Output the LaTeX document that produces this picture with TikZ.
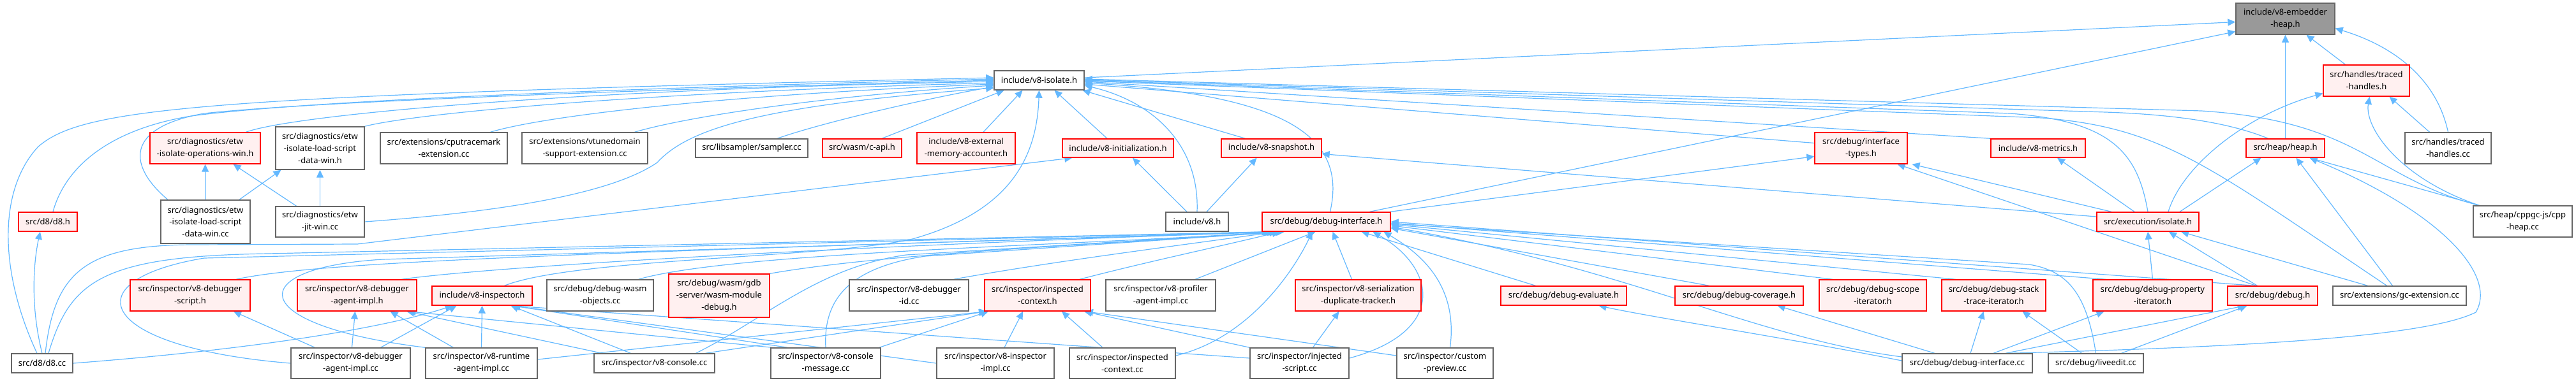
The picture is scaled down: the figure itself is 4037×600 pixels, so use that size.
\documentclass[tikz,border=0pt]{standalone}
\usepackage{fontspec}
\setmainfont{Noto Sans}
\usetikzlibrary{arrows.meta}
\definecolor{edgec}{HTML}{63B8FF}
\definecolor{boxg}{HTML}{666666}
\definecolor{redfill}{HTML}{FFF0F0}
\definecolor{rootfill}{HTML}{999999}
\pgfdeclarelayer{bg}
\pgfsetlayers{bg,main}
\tikzset{
 nb/.style={draw=boxg, fill=white, line width=1.4pt, inner sep=0pt, align=center, font=\fontsize{13}{18.8}\selectfont},
 nr/.style={nb, draw=red, fill=redfill},
 ng/.style={nb, fill=rootfill},
 e/.style={draw=edgec, line width=1.2pt, -{Triangle[length=12pt,width=11pt]}},
}
\newcommand\mknode[7]{%
 \pgfmathsetmacro\nbw{#4-#2}\pgfmathsetmacro\nbh{#5-#3}%
 \pgfmathsetmacro\nbx{(#2+#4)/2}\pgfmathsetmacro\nby{(#3+#5)/2}%
 \node[#6, minimum width=\nbw pt, minimum height=\nbh pt] (#1) at (\nbx,\nby) {#7};}
\begin{document}
\begin{tikzpicture}[x=1pt,y=-1pt]
\useasboundingbox (0,0) rectangle (4037,600);
% row 0-1
\mknode{embed}{3504}{5}{3659}{54}{ng}{include/v8-embedder\\-heap.h}
\mknode{isolate}{1558}{111}{1699}{141}{nb}{include/v8-isolate.h}
\mknode{tracedh}{3641}{102}{3776}{151}{nr}{src/handles/traced\\-handles.h}
% row 2
\mknode{etwops}{235}{208}{408}{257}{nr}{src/diagnostics/etw\\-isolate-operations-win.h}
\mknode{etwloadh}{432}{199}{571}{266}{nb}{src/diagnostics/etw\\-isolate-load-script\\-data-win.h}
\mknode{cputrace}{596}{208}{795}{257}{nb}{src/extensions/cputracemark\\-extension.cc}
\mknode{vtune}{818}{208}{1015}{257}{nb}{src/extensions/vtunedomain\\-support-extension.cc}
\mknode{sampler}{1090}{218}{1266}{247}{nb}{src/libsampler/sampler.cc}
\mknode{capi}{1289}{218}{1413}{247}{nr}{src/wasm/c-api.h}
\mknode{extmem}{1437}{208}{1591}{257}{nr}{include/v8-external\\-memory-accounter.h}
\mknode{init}{1665}{218}{1839}{247}{nr}{include/v8-initialization.h}
\mknode{snap}{1914}{218}{2071}{247}{nr}{include/v8-snapshot.h}
\mknode{ifacetypes}{2844}{208}{2989}{257}{nr}{src/debug/interface\\-types.h}
\mknode{metrics}{3120}{218}{3268}{247}{nr}{include/v8-metrics.h}
\mknode{heaph}{3520}{218}{3643}{247}{nr}{src/heap/heap.h}
\mknode{tracedcc}{3769}{208}{3904}{257}{nb}{src/handles/traced\\-handles.cc}
% row 3
\mknode{d8h}{29}{333}{121}{363}{nr}{src/d8/d8.h}
\mknode{etwloadcc}{252}{314}{392}{382}{nb}{src/diagnostics/etw\\-isolate-load-script\\-data-win.cc}
\mknode{etwjit}{432}{324}{571}{372}{nb}{src/diagnostics/etw\\-jit-win.cc}
\mknode{v8h}{1827}{333}{1925}{363}{nb}{include/v8.h}
\mknode{dbgif}{1978}{333}{2179}{363}{nr}{src/debug/debug-interface.h}
\mknode{execiso}{3286}{333}{3446}{363}{nr}{src/execution/isolate.h}
\mknode{cppheap}{3876}{323}{4031}{372}{nb}{src/heap/cppgc-js/cpp\\-heap.cc}
% row 4
\mknode{dbgscripth}{204}{439}{392}{488}{nr}{src/inspector/v8-debugger\\-script.h}
\mknode{dbgagenth}{466}{439}{653}{488}{nr}{src/inspector/v8-debugger\\-agent-impl.h}
\mknode{v8insph}{677}{449}{834}{479}{nr}{include/v8-inspector.h}
\mknode{wasmobj}{857}{439}{1024}{488}{nb}{src/debug/debug-wasm\\-objects.cc}
\mknode{gdb}{1048}{430}{1206}{498}{nr}{src/debug/wasm/gdb\\-server/wasm-module\\-debug.h}
\mknode{v8dbgid}{1331}{439}{1518}{488}{nb}{src/inspector/v8-debugger\\-id.cc}
\mknode{inspctxh}{1543}{439}{1709}{488}{nr}{src/inspector/inspected\\-context.h}
\mknode{profiler}{1733}{439}{1905}{488}{nb}{src/inspector/v8-profiler\\-agent-impl.cc}
\mknode{serial}{2030}{439}{2227}{488}{nr}{src/inspector/v8-serialization\\-duplicate-tracker.h}
\mknode{evaluate}{2352}{449}{2549}{479}{nr}{src/debug/debug-evaluate.h}
\mknode{coverage}{2625}{449}{2826}{479}{nr}{src/debug/debug-coverage.h}
\mknode{scope}{2851}{439}{3019}{488}{nr}{src/debug/debug-scope\\-iterator.h}
\mknode{stack}{3043}{439}{3206}{488}{nr}{src/debug/debug-stack\\-trace-iterator.h}
\mknode{prop}{3280}{439}{3467}{488}{nr}{src/debug/debug-property\\-iterator.h}
\mknode{debugh}{3491}{449}{3632}{479}{nr}{src/debug/debug.h}
\mknode{gcext}{3656}{449}{3865}{479}{nb}{src/extensions/gc-extension.cc}
% row 5
\mknode{d8cc}{18}{555}{114}{585}{nb}{src/d8/d8.cc}
\mknode{dbgagentcc}{456}{546}{643}{594}{nb}{src/inspector/v8-debugger\\-agent-impl.cc}
\mknode{runtime}{667}{546}{842}{594}{nb}{src/inspector/v8-runtime\\-agent-impl.cc}
\mknode{console}{931}{555}{1120}{585}{nb}{src/inspector/v8-console.cc}
\mknode{consolemsg}{1208}{546}{1380}{594}{nb}{src/inspector/v8-console\\-message.cc}
\mknode{v8inspimpl}{1468}{546}{1652}{594}{nb}{src/inspector/v8-inspector\\-impl.cc}
\mknode{inspctxcc}{1676}{546}{1842}{594}{nb}{src/inspector/inspected\\-context.cc}
\mknode{injscript}{1959}{546}{2114}{594}{nb}{src/inspector/injected\\-script.cc}
\mknode{custom}{2189}{546}{2340}{594}{nb}{src/inspector/custom\\-preview.cc}
\mknode{dbgifcc}{2981}{555}{3185}{585}{nb}{src/debug/debug-interface.cc}
\mknode{liveedit}{3210}{555}{3359}{585}{nb}{src/debug/liveedit.cc}

\begin{pgfonlayer}{bg}
% into embedder heap
\draw[e] ([yshift=4pt]isolate.east) -- ([yshift=-5pt]embed.west);
\draw[e] ([xshift=68pt]dbgif.north) -- ([yshift=-20pt]embed.west);
\draw[e] (heaph) -- (embed);
\draw[e] (tracedh) -- (embed);
\draw[e] (tracedcc.north) .. controls (3820,130) and (3760,75) .. ([yshift=-15pt]embed.east);
% into v8-isolate.h from the left
\draw[e] ([xshift=-8pt]d8cc.north) .. controls (0,430) and (-5,300) .. (60,230) .. controls (130,170) and (300,150) .. ([yshift=4pt]isolate.west);
\draw[e] ([xshift=8pt]d8h.north) .. controls (100,270) and (160,205) .. (300,182) .. controls (500,155) and (1100,135) .. ([yshift=2pt]isolate.west);
\draw[e] ([xshift=-59pt]etwloadcc.north) .. controls (200,260) and (195,200) .. (320,178) .. controls (500,158) and (1100,138) .. (isolate.west);
\draw[e] ([xshift=64pt]etwops.north) .. controls (460,180) and (900,140) .. ([yshift=-2pt]isolate.west);
\draw[e] ([xshift=70pt]etwloadh.north) .. controls (650,178) and (1000,145) .. ([yshift=-4pt]isolate.west);
\draw[e] ([xshift=73pt]cputrace.north) .. controls (860,180) and (1150,148) .. ([yshift=-6pt]isolate.west);
\draw[e] ([xshift=78pt]vtune.north) .. controls (1080,182) and (1300,150) .. ([yshift=-8pt]isolate.west);
\draw[e] ([xshift=40pt]sampler.north) .. controls (1290,192) and (1450,155) .. ([yshift=-10pt]isolate.west);
\draw[e] (etwjit.east) .. controls (750,335) and (950,310) .. (1030,255) .. controls (1080,200) and (1200,165) .. ([yshift=-12pt]isolate.west);
% into v8-isolate.h from below
\draw[e] ([xshift=31pt]capi.north) -- ([xshift=-55pt]isolate.south);
\draw[e] ([xshift=27pt]extmem.north) -- ([xshift=-26pt]isolate.south);
\draw[e] ([xshift=-17pt]init.north) -- ([xshift=24pt]isolate.south);
\draw[e] ([xshift=-41pt]snap.north) -- ([xshift=68pt]isolate.south);
\draw[e] ([xshift=35pt]v8insph.north) .. controls (900,405) and (1300,405) .. (1430,375) .. controls (1590,330) and (1625,240) .. (isolate.south);
% into v8-isolate.h from the right
\draw[e] (v8h.north) .. controls (1880,230) and (1810,160) .. ([yshift=-8pt]isolate.east);
\draw[e] ([xshift=6pt]dbgif.north) .. controls (2110,220) and (2030,150) .. ([yshift=-4pt]isolate.east);
\draw[e] ([yshift=8pt]ifacetypes.west) -- ([yshift=-6pt]isolate.east);
\draw[e] (metrics.north west) -- ([yshift=-2pt]isolate.east);
\draw[e] (execiso.north) .. controls (3350,240) and (3310,190) .. (3150,178) -- (isolate.east);
\draw[e] ([xshift=-27pt]heaph.north) .. controls (3500,195) and (3420,180) .. (3300,176) -- ([yshift=1pt]isolate.east);
\draw[e] ([xshift=10pt]cppheap.north west) .. controls (3720,280) and (3700,190) .. (3450,174) -- ([yshift=2pt]isolate.east);
\draw[e] ([xshift=-20pt]gcext.north) .. controls (3460,260) and (3390,200) .. (3200,185) -- ([yshift=-1pt]isolate.east);
% etw
\draw[e] (etwloadcc) -- (etwops);
\draw[e] ([xshift=53pt]etwloadcc.north) -- ([xshift=-61pt]etwloadh.south);
\draw[e] ([xshift=-37pt]etwjit.north) -- ([xshift=44pt]etwops.south);
\draw[e] (etwjit) -- (etwloadh);
% d8
\draw[e] (d8cc.north) .. controls (45,470) and (55,400) .. ([xshift=-12pt]d8h.south);
\draw[e] ([xshift=5pt]d8cc.north) .. controls (85,430) and (130,385) .. (300,384) -- (560,383) -- ([xshift=16pt]init.south west);
\draw[e] ([xshift=10pt]d8cc.north) .. controls (110,440) and (160,402) .. (420,398) -- ([xshift=12pt]dbgif.south west);
\draw[e] (d8cc.east) .. controls (400,548) and (600,515) .. ([xshift=-46pt]v8insph.south);
% into debug-interface.h
\draw[e] ([xshift=72pt]dbgscripth.north) .. controls (500,410) and (900,398) .. ([xshift=16pt]dbgif.south west);
\draw[e] ([xshift=70pt]dbgagenth.north) .. controls (720,425) and (1100,395) .. ([xshift=18pt]dbgif.south west);
\draw[e] ([xshift=60pt]wasmobj.north) .. controls (1150,395) and (1700,385) .. ([xshift=20pt]dbgif.south west);
\draw[e] (gdb.north east) .. controls (1400,395) and (1800,380) .. ([xshift=22pt]dbgif.south west);
\draw[e] ([xshift=70pt]v8dbgid.north) .. controls (1650,410) and (1850,385) .. ([xshift=24pt]dbgif.south west);
\draw[e] ([xshift=66pt]inspctxh.north) .. controls (1800,410) and (1920,385) .. ([xshift=28pt]dbgif.south west);
\draw[e] ([xshift=54pt]profiler.north) -- ([xshift=-17pt]dbgif.south);
\draw[e] ([xshift=-10pt]serial.north) -- ([xshift=10pt]dbgif.south);
\draw[e] ([xshift=-44pt]evaluate.north) -- ([xshift=55pt]dbgif.south);
\draw[e] ([yshift=8pt]injscript.east) .. controls (2270,520) and (2250,420) .. ([xshift=73pt]dbgif.south);
\draw[e] ([xshift=8pt]custom.north) .. controls (2285,450) and (2230,400) .. ([xshift=90pt]dbgif.south);
\draw[e] ([xshift=-47pt]coverage.north) -- ([yshift=-10pt]dbgif.east);
\draw[e] ([xshift=-63pt]scope.north) -- ([yshift=-6pt]dbgif.east);
\draw[e] ([xshift=-60pt]stack.north) -- ([yshift=-4pt]dbgif.east);
\draw[e] ([xshift=-73pt]prop.north) -- ([yshift=-2pt]dbgif.east);
\draw[e] ([xshift=-28pt]debugh.north) -- (dbgif.east);
\draw[e] (liveedit.north) .. controls (3270,460) and (3240,425) .. (3180,415) -- ([yshift=-3pt]dbgif.east);
\draw[e] ([yshift=10pt]dbgifcc.west) .. controls (2750,530) and (2550,420) .. ([yshift=-8pt]dbgif.east);
\draw[e] ([yshift=12pt]inspctxcc.east) .. controls (1960,530) and (2030,420) .. ([xshift=-22pt]dbgif.south);
\draw[e] ([xshift=65pt]console.north) .. controls (1200,500) and (1280,420) .. (1420,400) -- ([xshift=32pt]dbgif.south west);
\draw[e] (consolemsg.north) .. controls (1290,470) and (1330,420) .. (1450,402) -- ([xshift=34pt]dbgif.south west);
\draw[e] (dbgagentcc.west) .. controls (150,545) and (110,440) .. (320,405) -- ([xshift=14pt]dbgif.south west);
\draw[e] (runtime.north west) .. controls (380,510) and (380,420) .. (600,407) -- ([xshift=36pt]dbgif.south west);
% inspector lower rows
\draw[e] ([xshift=-56pt]dbgagentcc.north) -- ([xshift=68pt]dbgscripth.south);
\draw[e] ([xshift=2pt]dbgagentcc.north) -- ([xshift=-3pt]dbgagenth.south);
\draw[e] ([xshift=47pt]dbgagentcc.north) -- ([xshift=-40pt]v8insph.south);
\draw[e] ([xshift=-44pt]runtime.north) -- ([xshift=52pt]dbgagenth.south);
\draw[e] (runtime.north) -- (v8insph.south);
\draw[e] ([yshift=6pt]runtime.east) -- ([xshift=-79pt]inspctxh.south);
\draw[e] ([xshift=-82pt]console.north) -- ([xshift=78pt]dbgagenth.south);
\draw[e] ([xshift=-37pt]console.north) -- ([xshift=45pt]v8insph.south);
\draw[e] ([xshift=80pt]console.north) -- ([xshift=-80pt]inspctxh.south);
\draw[e] ([xshift=3pt]consolemsg.north west) -- ([xshift=80pt]dbgagenth.south);
\draw[e] ([xshift=-60pt]consolemsg.north) -- ([xshift=47pt]v8insph.south);
\draw[e] ([xshift=-3pt]consolemsg.north east) -- ([xshift=-77pt]inspctxh.south);
\draw[e] (v8inspimpl.west) -- ([xshift=48pt]v8insph.south);
\draw[e] ([xshift=14pt]v8inspimpl.north) -- ([xshift=-23pt]inspctxh.south);
\draw[e] ([xshift=-31pt]inspctxcc.north) -- ([xshift=38pt]inspctxh.south);
\draw[e] ([yshift=8pt]injscript.west) -- ([xshift=46pt]v8insph.south);
\draw[e] (injscript.north west) -- ([xshift=73pt]inspctxh.south);
\draw[e] ([yshift=12pt]custom.west) -- ([xshift=75pt]inspctxh.south);
\draw[e] ([xshift=21pt]injscript.north) -- ([xshift=-30pt]serial.south);
% debug lower rows
\draw[e] ([yshift=4pt]dbgifcc.west) .. controls (2800,530) and (2600,500) .. ([xshift=55pt]evaluate.south);
\draw[e] ([xshift=-51pt]dbgifcc.north) -- ([xshift=60pt]coverage.south);
\draw[e] ([xshift=5pt]dbgifcc.north) -- ([xshift=-16pt]stack.south);
\draw[e] ([xshift=41pt]dbgifcc.north) -- ([xshift=-76pt]prop.south);
\draw[e] ([xshift=60pt]dbgifcc.north) -- ([xshift=-43pt]debugh.south);
\draw[e] ([xshift=66pt]dbgifcc.north) .. controls (3500,545) and (3800,530) .. (3880,490) .. controls (3915,430) and (3820,330) .. ([xshift=38pt]heaph.south);
\draw[e] ([xshift=-22pt]liveedit.north) -- ([xshift=45pt]stack.south);
\draw[e] ([xshift=40pt]liveedit.north) -- ([xshift=-40pt]debugh.south);
\draw[e] ([xshift=-11pt]gcext.north) -- ([xshift=17pt]heaph.south);
\draw[e] ([xshift=-50pt]gcext.north) -- ([xshift=52pt]execiso.south);
\draw[e] ([xshift=-24pt]debugh.north) -- ([xshift=33pt]execiso.south);
\draw[e] (prop.north) -- (execiso.south);
\draw[e] ([xshift=-26pt]debugh.north) -- ([xshift=57pt]ifacetypes.south);
\draw[e] ([xshift=-57pt]execiso.north) -- ([xshift=80pt]ifacetypes.south);
\draw[e] ([xshift=-21pt]execiso.north) -- ([xshift=30pt]metrics.south);
\draw[e] ([yshift=8pt]execiso.west) -- ([yshift=-9pt]snap.east);
\draw[e] ([xshift=32pt]execiso.north) .. controls (3420,260) and (3520,180) .. ([yshift=-20pt]tracedh.west);
\draw[e] ([xshift=50pt]execiso.north) -- ([xshift=-38pt]heaph.south);
\draw[e] ([xshift=10pt]cppheap.north west) .. controls (3760,280) and (3705,200) .. ([xshift=5pt]tracedh.south);
\draw[e] ([xshift=10pt]cppheap.north west) -- ([xshift=38pt]heaph.south);
\draw[e] ([xshift=-29pt]tracedcc.north) -- ([xshift=36pt]tracedh.south);
\draw[e] ([xshift=-16pt]v8h.north) -- ([xshift=23pt]init.south);
\draw[e] ([xshift=15pt]v8h.north) -- ([xshift=-23pt]snap.south);
\draw[e] ([xshift=100pt]dbgif.north) -- ([yshift=-13pt]ifacetypes.west);
\end{pgfonlayer}
\end{tikzpicture}
\end{document}
